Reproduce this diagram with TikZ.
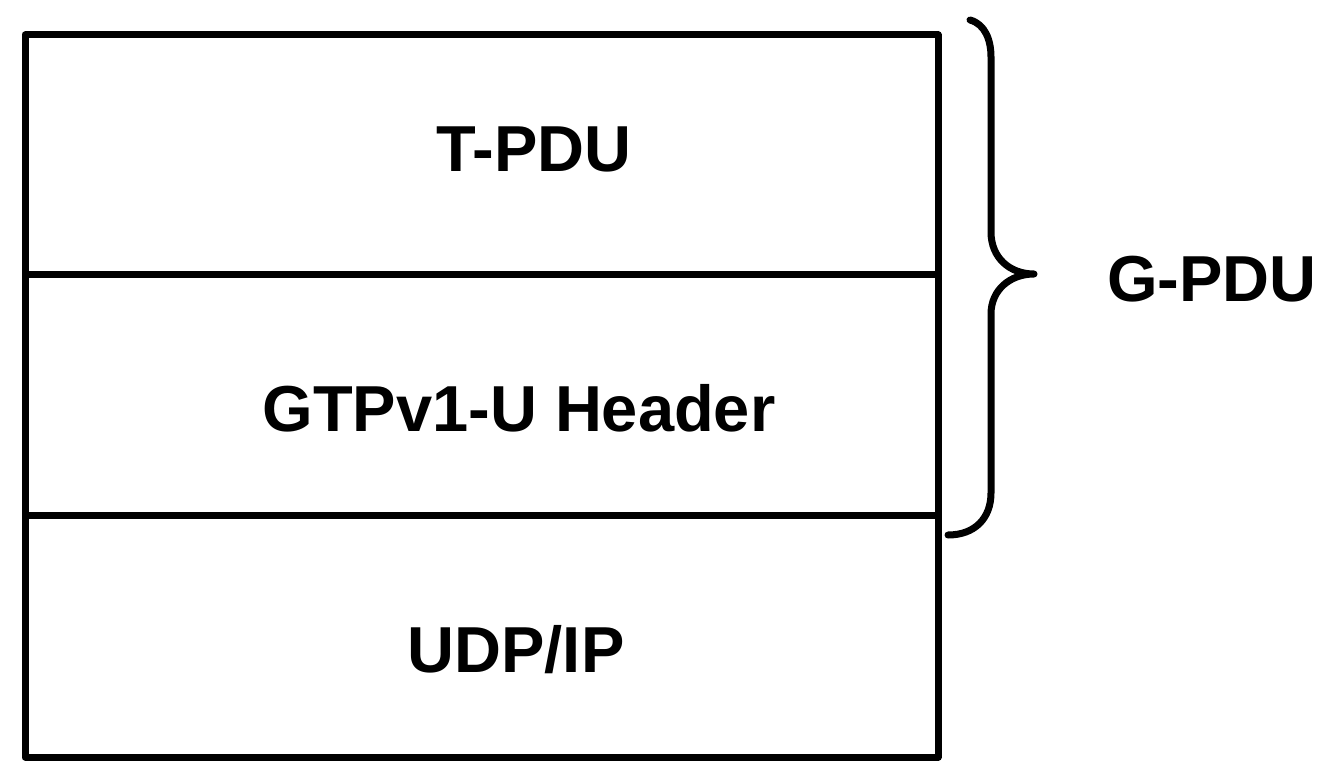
\documentclass[tikz,border=0pt]{standalone}
\usepackage{fontspec}
\setmainfont{Liberation Sans}
\usepackage{tikz}
\usetikzlibrary{positioning}

\tikzset{
  frame/.style={line width=7pt, line join=round},
  lbl/.style={anchor=base, inner sep=0pt, font=\fontsize{65}{70}\selectfont\bfseries},
}

\begin{document}
\begin{tikzpicture}[x=1pt, y=-1pt]
\useasboundingbox (0,0) rectangle (1344,778);
% Layers
\draw[frame] (25,35) rectangle (938,757);
\draw[frame] (25,274) -- (938,274);
\draw[frame] (25,515) -- (938,515);
\node[lbl] (tpdu) at (534,172) {T-PDU};
\node[lbl] (gtpu) at (519,431) {GTPv1-U Header};
\node[lbl] (udpip) at (516,672) {UDP/IP};

% Brace
\draw[frame, line cap=round] (970,20) .. controls (985,24) and (991,40) .. (991,57)
  -- (991,232) .. controls (991,258) and (1010,274) .. (1034,274)
  .. controls (1010,274) and (991,290) .. (991,314)
  -- (991,493) .. controls (991,518) and (975,535) .. (948,535);
\node[lbl] (gpdu) at (1212,301) {G-PDU};
\end{tikzpicture}
\end{document}
